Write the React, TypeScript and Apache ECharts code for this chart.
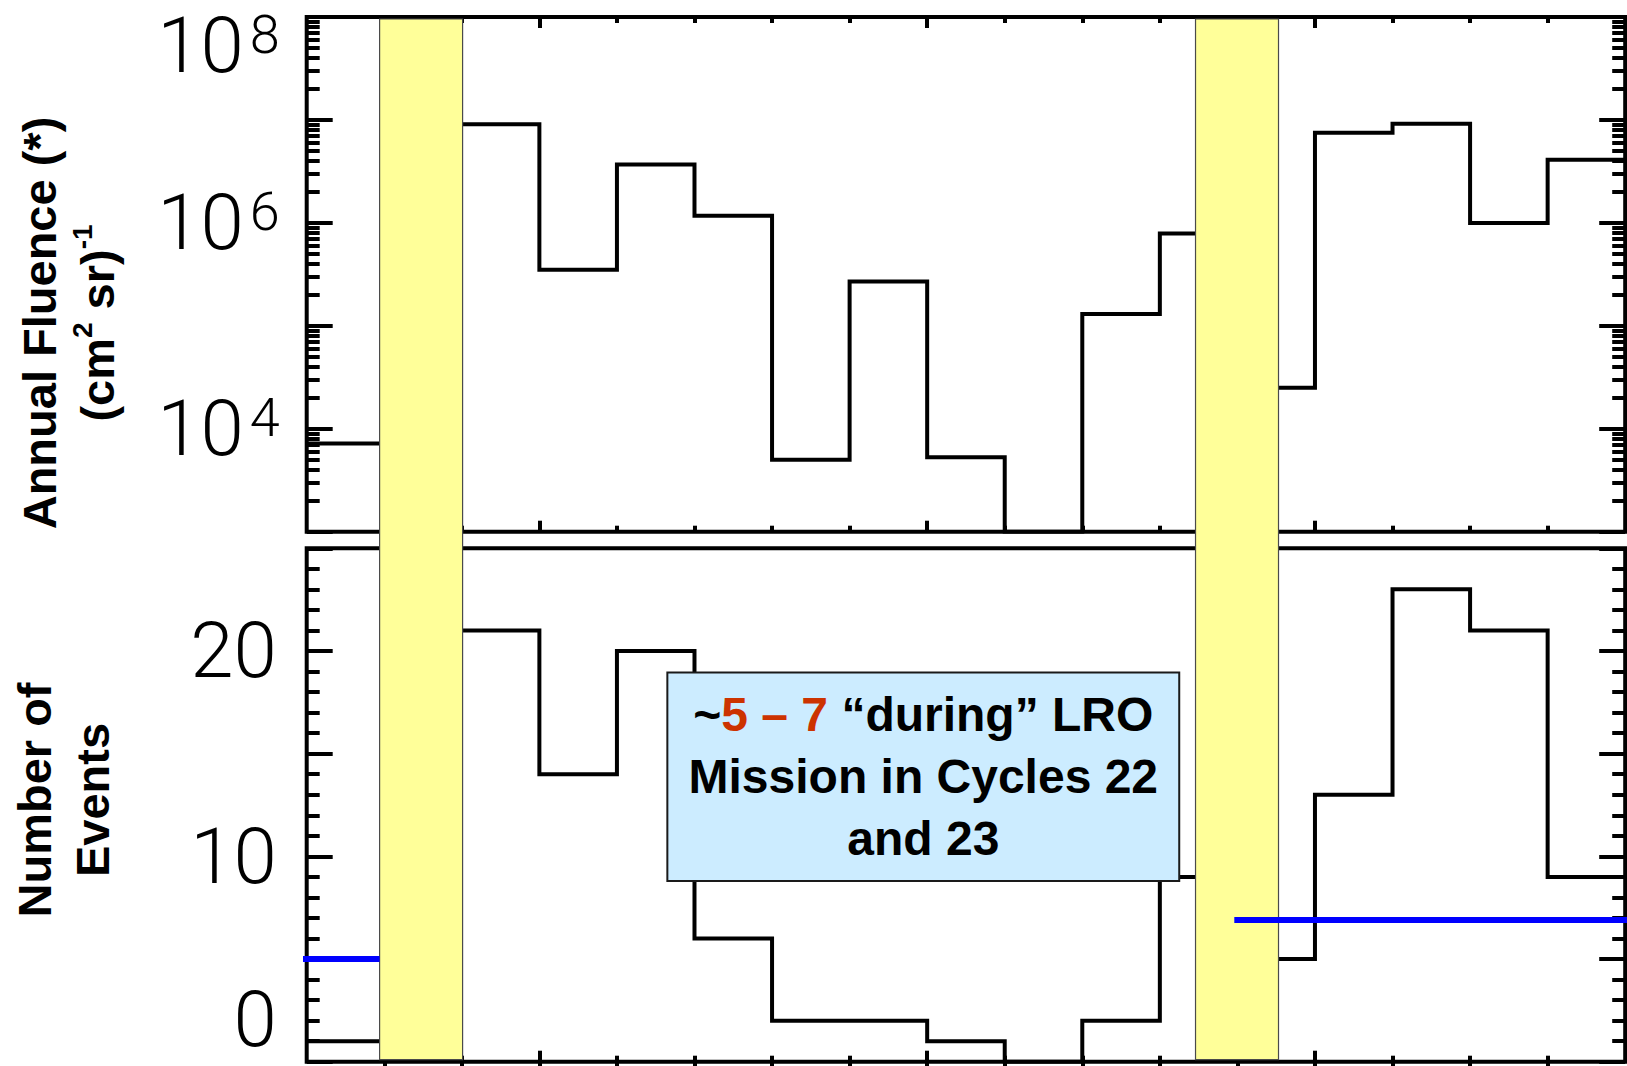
import React, { useEffect, useRef } from "react";
import * as echarts from "echarts";

// Start year of each one-year bin
const YEARS = [1987, 1988, 1989, 1990, 1991, 1992, 1993, 1994, 1995, 1996, 1997, 1998, 1999, 2000, 2001, 2002, 2003];
// Annual fluence per bin, (cm^2 sr)^-1 (null: covered by the mission band, 0: nothing recorded)
const FLUENCE = [7.2e3, null, 9.1e6, 3.5e5, 3.7e6, 1.17e6, 5.0e3, 2.7e5, 5.3e3, 0, 1.3e5, 7.9e5, 2.5e4, 7.5e6, 9.2e6, 1.0e6, 4.1e6];
// Number of events per bin
const EVENTS = [1, null, 21, 14, 20, 6, 2, 2, 1, 0, 2, 9, 5, 13, 23, 21, 9];
// Expected number of events during the mission, cycle 22 and cycle 23
const MISSION_RATE = [5, 6.9];
const MISSION_RATE_SPAN = [
  [1986.95, 1987.94],
  [1998.96, 2004.05],
];
// LRO mission window placed on each cycle
const MISSION_BANDS = [
  [1987.94, 1989.01],
  [1998.46, 1999.53],
];

// Axis ranges and tick values
const X_MIN = 1987;
const X_MAX = 2004;
const X_MAJOR = [1990, 1995, 2000];
const X_MINOR = [1988, 1989, 1991, 1992, 1993, 1994, 1996, 1997, 1998, 1999, 2001, 2002, 2003];
const FLUENCE_MIN = 1e3;
const FLUENCE_MAX = 1e8;
const FLUENCE_DECADES = [1e3, 1e4, 1e5, 1e6, 1e7, 1e8];
const FLUENCE_LABELS = [1e4, 1e6, 1e8];
const EVENTS_MAX = 25;
const EVENTS_MAJOR = [0, 5, 10, 15, 20, 25];
const EVENTS_LABELS = [0, 10, 20];

// Annotation box corners in data units of the lower panel
const NOTE_X = [1991.65, 1998.25];
const NOTE_Y = [18.95, 8.8];

const FLUENCE_MINOR: number[] = [];
FLUENCE_DECADES.slice(0, -1).forEach((d) => {
  for (let k = 2; k <= 9; k++) FLUENCE_MINOR.push(k * d);
});
const EVENTS_MINOR: number[] = [];
for (let v = 1; v < EVENTS_MAX; v++) if (v % 5 !== 0) EVENTS_MINOR.push(v);

// Histogram outline: two corner points per bin, a break where a bin is missing
function stepPoints(vals: (number | null)[], floor?: number) {
  const pts: any[] = [];
  vals.forEach((v, i) => {
    const x0 = YEARS[i];
    const x1 = x0 + 1;
    if (v == null) {
      pts.push([x0, "-"]);
      return;
    }
    const y = floor != null ? Math.max(v, floor) : v;
    pts.push([x0, y], [x1, y]);
  });
  return pts;
}

const TICK_LINE = { color: "#000", width: 4 };
const NUM_FONT = "Roboto";
const BOLD_FONT = "'Liberation Sans', Arial, sans-serif";

const numBase = { fontSize: 78, fontFamily: NUM_FONT, fontWeight: 300, color: "#000", lineHeight: 78 };
const supBase = { fontSize: 54, fontFamily: NUM_FONT, fontWeight: 300, color: "#000", lineHeight: 54 };
// b/s: regular label, bt/st: label kept inside the top edge
const fluenceRich = {
  b: { ...numBase },
  s: { ...supBase, padding: [0, 0, 22, 6] },
  bt: { ...numBase, padding: [56, 0, 0, 0] },
  st: { ...supBase, padding: [56, 0, 22, 6] },
};
// Count labels are bottom-anchored on their tick; padding re-centres them,
// the lowest one stays inside the bottom edge
const eventRich = {
  b: { ...numBase, padding: [78, 0, 0, 0] },
  bb: { ...numBase, padding: [0, 0, 6, 0] },
};

function xAxes(gridIndex: number) {
  const make = (position: string, values: number[], length: number) => ({
    type: "value",
    gridIndex,
    position,
    min: X_MIN,
    max: X_MAX,
    axisLine: { show: false },
    splitLine: { show: false },
    axisLabel: { show: false },
    axisTick: { show: true, inside: true, length, customValues: values, lineStyle: TICK_LINE },
  });
  return [
    make("bottom", X_MAJOR, 11),
    make("bottom", X_MINOR, 6),
    make("top", X_MAJOR, 11),
    make("top", X_MINOR, 6),
  ];
}

function fluenceAxes() {
  const base = {
    type: "log",
    logBase: 10,
    gridIndex: 0,
    min: FLUENCE_MIN,
    max: FLUENCE_MAX,
    axisLine: { show: false },
    splitLine: { show: false },
  };
  return [
    {
      ...base,
      position: "left",
      axisTick: { show: true, inside: true, length: 26, customValues: FLUENCE_DECADES, lineStyle: TICK_LINE },
      axisLabel: {
        show: true,
        customValues: FLUENCE_LABELS,
        margin: 27,
        showMinLabel: true,
        showMaxLabel: true,
        formatter: (v: number) => {
          const e = Math.round(Math.log10(v));
          return v >= FLUENCE_MAX ? `{bt|10}{st|${e}}` : `{b|10}{s|${e}}`;
        },
        rich: fluenceRich,
      },
    },
    { ...base, position: "left", axisLabel: { show: false }, axisTick: { show: true, inside: true, length: 13, customValues: FLUENCE_MINOR, lineStyle: TICK_LINE } },
    { ...base, position: "right", axisLabel: { show: false }, axisTick: { show: true, inside: true, length: 26, customValues: FLUENCE_DECADES, lineStyle: TICK_LINE } },
    { ...base, position: "right", axisLabel: { show: false }, axisTick: { show: true, inside: true, length: 13, customValues: FLUENCE_MINOR, lineStyle: TICK_LINE } },
  ];
}

function eventAxes() {
  const base = {
    type: "value",
    gridIndex: 1,
    min: 0,
    max: EVENTS_MAX,
    axisLine: { show: false },
    splitLine: { show: false },
  };
  return [
    {
      ...base,
      position: "left",
      axisTick: { show: true, inside: true, length: 26, customValues: EVENTS_MAJOR, lineStyle: TICK_LINE },
      axisLabel: {
        show: true,
        customValues: EVENTS_LABELS,
        margin: 30,
        verticalAlign: "bottom",
        showMinLabel: true,
        showMaxLabel: true,
        formatter: (v: number) => (v === 0 ? `{bb|${v}}` : `{b|${v}}`),
        rich: eventRich,
      },
    },
    { ...base, position: "left", axisLabel: { show: false }, axisTick: { show: true, inside: true, length: 13, customValues: EVENTS_MINOR, lineStyle: TICK_LINE } },
    { ...base, position: "right", axisLabel: { show: false }, axisTick: { show: true, inside: true, length: 26, customValues: EVENTS_MAJOR, lineStyle: TICK_LINE } },
    { ...base, position: "right", axisLabel: { show: false }, axisTick: { show: true, inside: true, length: 13, customValues: EVENTS_MINOR, lineStyle: TICK_LINE } },
  ];
}

const gridBase = {
  left: 306.7,
  width: 1318.5,
  show: true,
  borderColor: "#000",
  borderWidth: 4,
  backgroundColor: "rgba(0,0,0,0)",
  containLabel: false,
  outerBoundsMode: "none",
};

const titleRich = {
  t: { fill: "#000", fontSize: 47, fontWeight: "bold", fontFamily: BOLD_FONT, lineHeight: 58 },
  s: { fill: "#000", fontSize: 28, fontWeight: "bold", fontFamily: BOLD_FONT, lineHeight: 40, verticalAlign: "top" },
};

const noteText = {
  k: {
    fill: "#000",
    fontSize: 48,
    fontWeight: "bold",
    fontFamily: BOLD_FONT,
    lineHeight: 62,
    textShadowColor: "#ffffff",
    textShadowOffsetX: 2,
    textShadowOffsetY: 2,
    textShadowBlur: 0,
  },
  r: {
    fill: "#CC3300",
    fontSize: 48,
    fontWeight: "bold",
    fontFamily: BOLD_FONT,
    lineHeight: 62,
    textShadowColor: "rgba(40,10,0,0.85)",
    textShadowOffsetX: 2,
    textShadowOffsetY: 2,
    textShadowBlur: 0,
  },
};

export default function App() {
  const ref = useRef<HTMLDivElement>(null);

  useEffect(() => {
    if (!ref.current) return;
    const chart = echarts.init(ref.current, null, { renderer: "svg" });

    const option: any = {
      animation: false,
      backgroundColor: "#ffffff",
      textStyle: { fontFamily: NUM_FONT },
      grid: [
        { ...gridBase, top: 17, height: 514.7 },
        { ...gridBase, top: 548.3, height: 513.4 },
      ],
      xAxis: [...xAxes(0), ...xAxes(1)],
      yAxis: [...fluenceAxes(), ...eventAxes()],
      series: [
        {
          type: "line",
          xAxisIndex: 0,
          yAxisIndex: 0,
          data: stepPoints(FLUENCE, FLUENCE_MIN),
          symbol: "none",
          connectNulls: false,
          silent: true,
          z: 3,
          lineStyle: { color: "#000", width: 4, join: "miter" },
        },
        {
          type: "line",
          xAxisIndex: 4,
          yAxisIndex: 4,
          data: stepPoints(EVENTS),
          symbol: "none",
          connectNulls: false,
          silent: true,
          z: 3,
          lineStyle: { color: "#000", width: 4, join: "miter" },
        },
        ...MISSION_RATE.map((v, i) => ({
          type: "line",
          xAxisIndex: 4,
          yAxisIndex: 4,
          data: [
            [MISSION_RATE_SPAN[i][0], v],
            [MISSION_RATE_SPAN[i][1], v],
          ],
          symbol: "none",
          silent: true,
          clip: false,
          z: 60,
          lineStyle: { color: "#0000FF", width: 6 },
        })),
      ],
    };
    chart.setOption(option);

    const toX = (v: number) => chart.convertToPixel({ xAxisIndex: 4 } as any, v) as unknown as number;
    const toEvY = (v: number) => chart.convertToPixel({ yAxisIndex: 4 } as any, v) as unknown as number;
    const yTop = chart.convertToPixel({ yAxisIndex: 0 } as any, FLUENCE_MAX) as unknown as number;
    const yBot = toEvY(0);

    const bx0 = toX(NOTE_X[0]);
    const bx1 = toX(NOTE_X[1]);
    const by0 = toEvY(NOTE_Y[0]);
    const by1 = toEvY(NOTE_Y[1]);

    const graphic: any[] = [
      ...MISSION_BANDS.map(([a, b]) => ({
        type: "rect",
        z: 50,
        silent: true,
        shape: { x: toX(a), y: yTop + 2, width: toX(b) - toX(a), height: yBot - yTop - 4 },
        style: { fill: "#FFFF99", stroke: "#4a4a4a", lineWidth: 1.2 },
      })),
      {
        type: "rect",
        z: 70,
        silent: true,
        shape: { x: bx0, y: by0, width: bx1 - bx0, height: by1 - by0 },
        style: { fill: "#CCECFF", stroke: "#1a1a1a", lineWidth: 2 },
      },
      {
        type: "text",
        z: 71,
        silent: true,
        x: (bx0 + bx1) / 2,
        y: (by0 + by1) / 2,
        style: {
          text: "{k|~}{r|5 – 7}{k| “during” LRO}\n{k|Mission in Cycles 22}\n{k|and 23}",
          rich: noteText,
          align: "center",
          verticalAlign: "middle",
        },
      },
      {
        type: "text",
        z: 5,
        silent: true,
        x: 68,
        y: 323,
        rotation: Math.PI / 2,
        style: {
          text: "{t|Annual Fluence (*)}\n{t|(cm}{s|2}{t| sr)}{s|-1}",
          rich: titleRich,
          align: "center",
          verticalAlign: "middle",
        },
      },
      {
        type: "text",
        z: 5,
        silent: true,
        x: 63,
        y: 800,
        rotation: Math.PI / 2,
        style: {
          text: "{t|Number of}\n{t|Events}",
          rich: titleRich,
          align: "center",
          verticalAlign: "middle",
        },
      },
    ];
    chart.setOption({ graphic });

    return () => chart.dispose();
  }, []);

  return (
    <div
      ref={ref}
      style={{ position: "fixed", left: 0, top: 0, width: 1627, height: 1066, background: "#fff" }}
    />
  );
}
